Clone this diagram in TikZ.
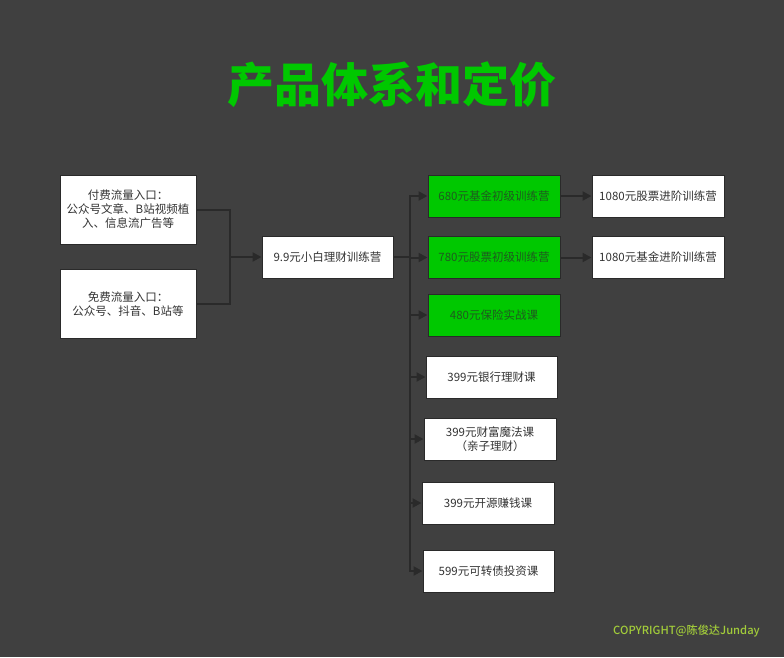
\documentclass[tikz,border=0pt]{standalone}
\usepackage{fontspec}
\setmainfont{Noto Sans CJK SC}
\newfontfamily\titlefont{Noto Sans CJK SC Black}
\newfontfamily\cpfont{Noto Sans CJK SC Medium}
\usetikzlibrary{arrows.meta}
\definecolor{bg}{HTML}{404040}
\definecolor{ln}{HTML}{2A2A2A}
\definecolor{gr}{HTML}{00C800}
\definecolor{txt}{HTML}{333333}
\definecolor{gtxt}{HTML}{1F5A1F}
\definecolor{cp}{HTML}{A2CC3A}
\tikzset{
  box/.style={draw=ln, line width=1pt, fill=white, text=txt, minimum width=132pt, minimum height=42pt, inner sep=2pt, align=center, font=\fontsize{11.5}{14}\selectfont},
  bigbox/.style={box, minimum width=136pt, minimum height=69pt},
  gbox/.style={box, fill=gr, text=gtxt},
  conn/.style={draw=ln, line width=2pt},
  arr/.style={conn, -{Triangle[length=9pt,width=9pt]}},
}
\begin{document}
\begin{tikzpicture}[x=1pt,y=-1pt]
\fill[bg] (0,0) rectangle (784,657);
\useasboundingbox (0,0) rectangle (784,657);
\node[text=gr, font=\titlefont\fontsize{47}{52}\selectfont] (title) at (392,85) {产品体系和定价};
\node[bigbox] (paid) at (128,209.5) {付费流量入口：\\公众号文章、B站视频植\\入、信息流广告等};
\node[bigbox] (free) at (128,304) {免费流量入口：\\公众号、抖音、B站等};
\node[box, minimum width=131pt] (mid) at (327.5,257) {9.9元小白理财训练营};
\node[gbox] (b680) at (494,196) {680元基金初级训练营};
\node[gbox] (b780) at (494,257.5) {780元股票初级训练营};
\node[gbox] (b480) at (494,315) {480元保险实战课};
\node[box, minimum width=131pt] (b399a) at (491.5,377) {399元银行理财课};
\node[box] (b399b) at (490,439) {399元财富魔法课\\（亲子理财）};
\node[box] (b399c) at (488,503) {399元开源赚钱课};
\node[box, minimum width=131pt] (b599) at (488.5,571) {599元可转债投资课};
\node[box] (s1) at (658,196) {1080元股票进阶训练营};
\node[box] (s2) at (658,257.5) {1080元基金进阶训练营};
\coordinate (j1) at (230,257);
\coordinate (j2) at (410,257);
\draw[conn] (paid.east) -| (j1);
\draw[conn] (free.east) -| (j1);
\draw[arr] (j1) -- (mid.west);
\draw[conn] (mid.east) -- (j2);
\foreach \t in {b680,b780,b480,b399a,b399b,b399c,b599}{
  \draw[arr] (j2) |- (\t.west);
}
\draw[arr] (b680.east) -- (s1.west);
\draw[arr] (b780.east) -- (s2.west);
\node[text=cp, font=\cpfont\fontsize{11.2}{14}\selectfont, anchor=east, inner sep=0pt] (copy) at (760,631) {COPYRIGHT@陈俊达Junday};
\end{tikzpicture}
\end{document}
